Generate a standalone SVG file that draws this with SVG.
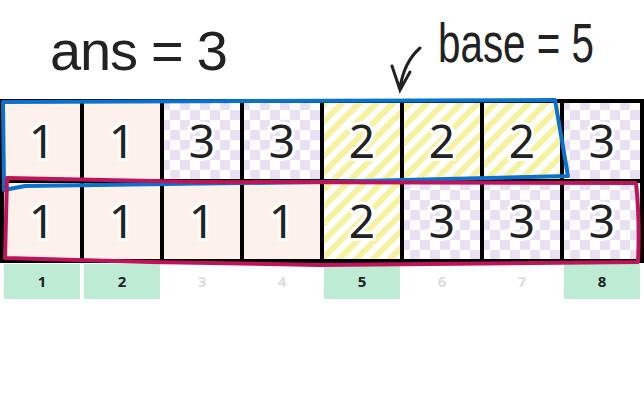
<svg xmlns="http://www.w3.org/2000/svg" width="644" height="400" viewBox="0 0 644 400">
<defs>
<pattern id="chk" width="20" height="20" patternUnits="userSpaceOnUse">
<rect width="20" height="20" fill="#fff"/><rect width="10" height="10" fill="#e9e1f3"/><rect x="10" y="10" width="10" height="10" fill="#e9e1f3"/>
</pattern>
<pattern id="str" width="12" height="12" patternUnits="userSpaceOnUse" patternTransform="rotate(45)">
<rect width="12" height="12" fill="#fff"/><rect width="6" height="12" fill="#f7f2a0"/>
</pattern>
<style>
.c{stroke:#000;stroke-width:4}
.p{fill:#fdf1ec}.k{fill:url(#chk)}.s{fill:url(#str)}
.v{font-family:"Noto Sans",sans-serif;font-size:46px;fill:#222;text-anchor:middle;stroke:#fff;stroke-width:6;paint-order:stroke}
.i{font-family:"Noto Sans",sans-serif;font-size:15px;font-weight:bold;text-anchor:middle}
.hw{font-family:"Liberation Sans",sans-serif;fill:#222;font-size:56px}
</style>
</defs>
<rect width="644" height="400" fill="#fff"/>
<text class="hw" x="50" y="70" textLength="178">ans = 3</text>
<text class="hw" x="438" y="62" font-size="46" textLength="156" lengthAdjust="spacingAndGlyphs">base = 5</text>
<path d="M420 48 Q404 62 400 88 M392 66 L400 90 L410 72" fill="none" stroke="#222" stroke-width="3" stroke-linecap="round"/>
<g id="row1">
<rect class="c p" x="2" y="101" width="80" height="80"/><text class="v" x="42" y="158">1</text>
<rect class="c p" x="82" y="101" width="80" height="80"/><text class="v" x="122" y="158">1</text>
<rect class="c k" x="162" y="101" width="80" height="80"/><text class="v" x="202" y="158">3</text>
<rect class="c k" x="242" y="101" width="80" height="80"/><text class="v" x="282" y="158">3</text>
<rect class="c s" x="322" y="101" width="80" height="80"/><text class="v" x="362" y="158">2</text>
<rect class="c s" x="402" y="101" width="80" height="80"/><text class="v" x="442" y="158">2</text>
<rect class="c s" x="482" y="101" width="80" height="80"/><text class="v" x="522" y="158">2</text>
<rect class="c k" x="562" y="101" width="80" height="80"/><text class="v" x="602" y="158">3</text>
</g>
<g id="row2">
<rect class="c p" x="2" y="181" width="80" height="80"/><text class="v" x="42" y="238">1</text>
<rect class="c p" x="82" y="181" width="80" height="80"/><text class="v" x="122" y="238">1</text>
<rect class="c p" x="162" y="181" width="80" height="80"/><text class="v" x="202" y="238">1</text>
<rect class="c p" x="242" y="181" width="80" height="80"/><text class="v" x="282" y="238">1</text>
<rect class="c s" x="322" y="181" width="80" height="80"/><text class="v" x="362" y="238">2</text>
<rect class="c k" x="402" y="181" width="80" height="80"/><text class="v" x="442" y="238">3</text>
<rect class="c k" x="482" y="181" width="80" height="80"/><text class="v" x="522" y="238">3</text>
<rect class="c k" x="562" y="181" width="80" height="80"/><text class="v" x="602" y="238">3</text>
</g>
<g id="index">
<rect x="4" y="264" width="76" height="35" fill="#bdebd3"/><text class="i" x="42" y="287" fill="#222">1</text>
<rect x="84" y="264" width="76" height="35" fill="#bdebd3"/><text class="i" x="122" y="287" fill="#222">2</text>
<text class="i" x="202" y="287" fill="#ddd">3</text>
<text class="i" x="282" y="287" fill="#ddd">4</text>
<rect x="324" y="264" width="76" height="35" fill="#bdebd3"/><text class="i" x="362" y="287" fill="#222">5</text>
<text class="i" x="442" y="287" fill="#ddd">6</text>
<text class="i" x="522" y="287" fill="#ddd">7</text>
<rect x="564" y="264" width="76" height="35" fill="#bdebd3"/><text class="i" x="602" y="287" fill="#222">8</text>
</g>
<g id="connectors" fill="none" stroke-width="4" stroke-linecap="round" stroke-linejoin="round">
<path d="M3 102 L555 100 Q562 140 568 176 L320 182 L25 186 L4 190 Z" stroke="#0a72cc"/>
<path d="M7 178 L200 182 L636 183 Q640 220 638 262 L320 265 L150 262 L5 258 Z" stroke="#c0145a"/>
</g>
</svg>
